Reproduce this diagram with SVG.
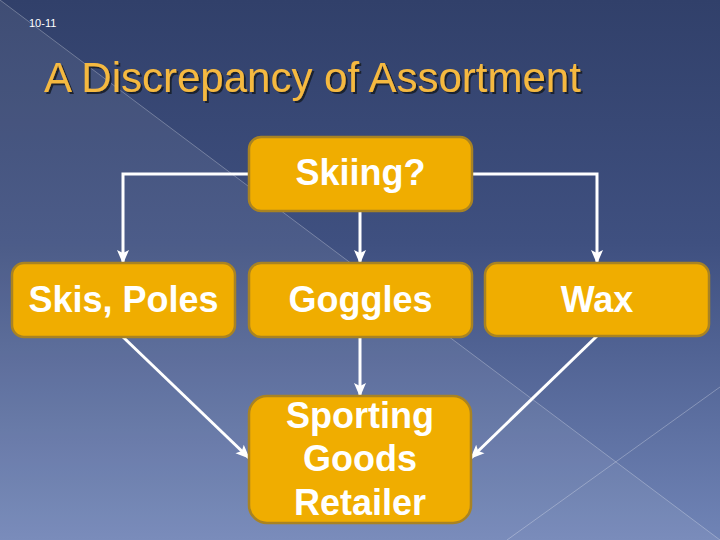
<svg xmlns="http://www.w3.org/2000/svg" width="720" height="540" viewBox="0 0 720 540">
  <defs>
    <linearGradient id="bg" x1="0" y1="0" x2="0" y2="1">
      <stop offset="0" stop-color="#31406a"/>
      <stop offset="0.45" stop-color="#3f5080"/>
      <stop offset="1" stop-color="#7084b6"/>
    </linearGradient>
    <filter id="shadow" x="-5%" y="-20%" width="110%" height="150%">
      <feDropShadow dx="2" dy="2" stdDeviation="0.6" flood-color="#141a2a" flood-opacity="0.9"/>
    </filter>
    <marker id="arrow" markerUnits="userSpaceOnUse" markerWidth="14" markerHeight="14" viewBox="0 0 14 14" refX="13" refY="7" orient="auto">
      <path d="M0,1 L14,7 L0,13 L3,7 Z" fill="#ffffff"/>
    </marker>
    <style>
      .box { fill: #f0ad00; stroke: #a98322; stroke-width: 2.5; }
      .label { font-family: "Liberation Sans", Arial, sans-serif; font-weight: bold; font-size: 36px; fill: #ffffff; text-anchor: middle; }
      .conn { fill: none; stroke: #ffffff; stroke-width: 3; marker-end: url(#arrow); }
      .deco { stroke: #ffffff; stroke-opacity: 0.28; stroke-width: 1; fill: none; }
    </style>
  </defs>

  <!-- background -->
  <rect x="0" y="0" width="720" height="540" fill="url(#bg)"/>
  <polygon points="0,0 720,540 0,540" fill="#ffffff" fill-opacity="0.07"/>
  <line class="deco" x1="0" y1="0" x2="720" y2="540"/>
  <line class="deco" x1="507" y1="540" x2="720" y2="387"/>

  <!-- header -->
  <text x="29" y="27" font-family="'Liberation Sans', Arial, sans-serif" font-size="11" fill="#ffffff">10-11</text>
  <text x="44" y="92" font-family="'Liberation Sans', Arial, sans-serif" font-size="42" fill="#f5b940" filter="url(#shadow)">A Discrepancy of Assortment</text>

  <!-- connectors -->
  <g id="connectors">
    <polyline class="conn" points="249,174 123,174 123,263"/>
    <line class="conn" x1="360" y1="211" x2="360" y2="263"/>
    <polyline class="conn" points="472,174 597,174 597,263"/>
    <line class="conn" x1="123" y1="337" x2="249" y2="458"/>
    <line class="conn" x1="360" y1="337" x2="360" y2="396"/>
    <line class="conn" x1="597" y1="336" x2="471" y2="458"/>
  </g>

  <!-- nodes -->
  <g id="skiing">
    <rect class="box" x="249" y="137" width="223" height="74" rx="12"/>
    <text class="label" x="360.5" y="185">Skiing?</text>
  </g>
  <g id="skis-poles">
    <rect class="box" x="12" y="263" width="223" height="74" rx="12"/>
    <text class="label" x="123.5" y="312">Skis, Poles</text>
  </g>
  <g id="goggles">
    <rect class="box" x="249" y="263" width="223" height="74" rx="12"/>
    <text class="label" x="360.5" y="312">Goggles</text>
  </g>
  <g id="wax">
    <rect class="box" x="485" y="263" width="224" height="73" rx="12"/>
    <text class="label" x="597" y="312">Wax</text>
  </g>
  <g id="retailer">
    <rect class="box" x="249" y="396" width="222" height="127" rx="18"/>
    <text class="label" x="360" y="428">Sporting</text>
    <text class="label" x="360" y="471">Goods</text>
    <text class="label" x="360" y="515">Retailer</text>
  </g>
</svg>
